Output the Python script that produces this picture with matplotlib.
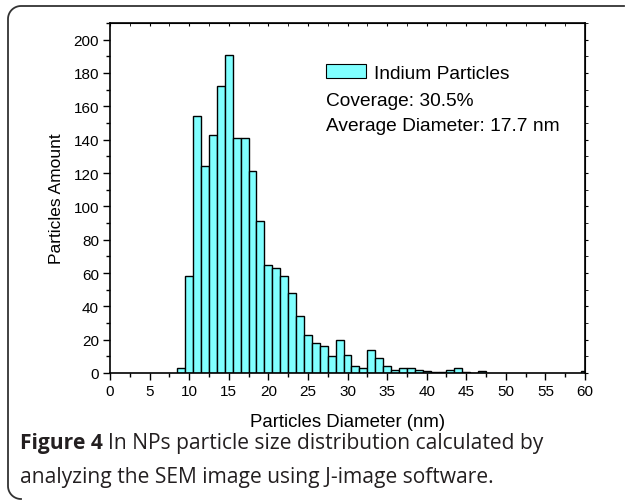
import numpy as np
import matplotlib
matplotlib.use('Agg')
import matplotlib.pyplot as plt
from matplotlib.lines import Line2D
from matplotlib.patches import Patch

#particle size histogram, 1 nm bins centred on integers
diameters = list(range(9, 48)) + [60]
counts = [3, 58, 154, 124, 143, 172, 191, 141, 141, 121,
          91, 65, 63, 58, 48, 34, 23, 18, 16, 10,
          20, 11, 4, 3, 14, 9, 4, 2, 3, 3,
          2, 1, 0.5, 0.5, 2, 3, 0.5, 0, 1] + [1]

xticks = list(range(0, 61, 5))
yticks = list(range(0, 201, 20))

plt.rcParams['font.family'] = ['Liberation Sans', 'DejaVu Sans']

fig = plt.figure(figsize=(6.25, 5.02), dpi=100)
ax = fig.add_axes([110/625, 1-374/502, 475/625, 350/502])

ax.bar(diameters, counts, width=1.0, color='#80ffff', edgecolor='black',
       linewidth=1.0, zorder=2)

ax.set_xlim(0, 60)
ax.set_ylim(0, 210)
ax.set_xticks(xticks)
ax.set_yticks(yticks)
ax.set_xticks(np.arange(0, 61, 2.5), minor=True)
ax.set_yticks(np.arange(0, 211, 10), minor=True)
ax.tick_params(axis='both', which='major', labelsize=11, length=5, width=1,
               direction='out', pad=3)
ax.tick_params(axis='both', which='minor', length=3, width=1, direction='out')
for s in ax.spines.values():
    s.set_linewidth(1.2)

#mirrored ticks on the top and right, Origin style
top = ax.secondary_xaxis('top')
top.set_xticks(xticks)
top.set_xticks(np.arange(0, 61, 2.5), minor=True)
top.tick_params(which='both', direction='in', length=2, labeltop=False)
right = ax.secondary_yaxis('right')
right.set_yticks(yticks)
right.set_yticks(np.arange(0, 211, 10), minor=True)
right.tick_params(which='both', direction='out', length=2, labelright=False)

ax.set_xlabel('Particles Diameter (nm)', fontsize=13.4, va='center')
ax.xaxis.set_label_coords(0.5, -49/350)
ax.set_ylabel('Particles Amount', fontsize=12.5, va='center')
ax.yaxis.set_label_coords(-53/475, 0.5)

fs = 13.8
leg = ax.legend(handles=[Patch(facecolor='#80ffff', edgecolor='black', linewidth=0.8)],
                labels=['Indium Particles'], loc='center left',
                bbox_to_anchor=(0.455, 0.857), frameon=False, fontsize=fs,
                handlelength=2.1, handleheight=0.68, handletextpad=0.38,
                borderaxespad=0, borderpad=0)
ax.text(0.455, 0.78, 'Coverage: 30.5%', transform=ax.transAxes, fontsize=fs,
        va='center')
ax.text(0.455, 0.706, 'Average Diameter: 17.7 nm', transform=ax.transAxes,
        fontsize=fs, va='center')

#frame around figure and caption
W, H = 625, 502
r = 13
xl, yt, yb = 8, H - 7, 2
t = np.linspace(0, np.pi/2, 20)
xs = [W - 1] + list(xl + r - r*np.sin(t)) + [xl, xl] + list(xl + r - r*np.cos(t))
ys = [yt] + list(yt - r + r*np.cos(t)) + [yt - r, yb + r] + list(yb + r - r*np.sin(t))
fig.add_artist(Line2D(np.array(xs)/W, np.array(ys)/H, color='#333333', lw=1.3))

cap_col = '#231f20'
cap_fs = 15.1
fig.canvas.draw()
t1 = fig.text(20/W, 1-444/H, 'Figure 4', fontsize=cap_fs, fontweight='bold',
              family='Open Sans', color=cap_col, va='center')
bb = t1.get_window_extent(fig.canvas.get_renderer())
fig.text(bb.x1/W + 5/W, 1-444/H, 'In NPs particle size distribution calculated by',
         fontsize=cap_fs, family='Open Sans', color=cap_col, va='center')
fig.text(20/W, 1-478/H, 'analyzing the SEM image using J-image software.',
         fontsize=cap_fs, family='Open Sans', color=cap_col, va='center')

fig.savefig('out.png', dpi=100)
